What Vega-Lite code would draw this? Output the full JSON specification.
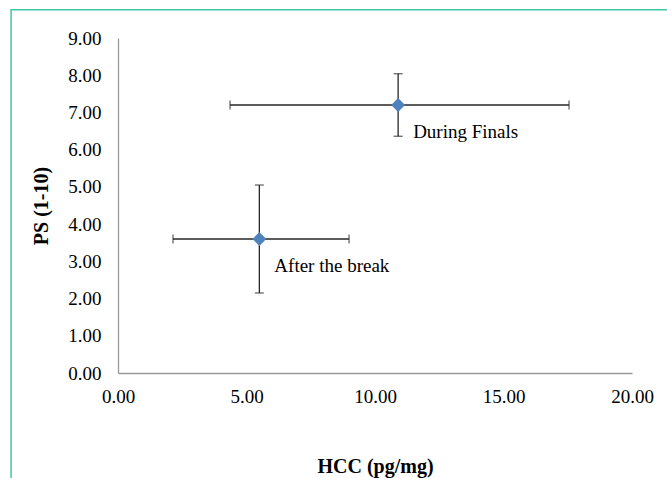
{
  "$schema": "https://vega.github.io/schema/vega-lite/v6.json",
  "width": 514,
  "height": 335,
  "autosize": {"type": "none"},
  "padding": {"left": 118, "top": 38, "right": 35, "bottom": 105},
  "background": "white",
  "config": {
    "view": {"stroke": null},
    "font": "Liberation Serif",
    "axis": {
      "grid": false,
      "ticks": false,
      "tickSize": 0,
      "domainColor": "#9a9a9a",
      "domainWidth": 1.3,
      "labelFont": "Liberation Serif",
      "labelFontSize": 19,
      "labelColor": "#000000",
      "labelOverlap": false,
      "labelFlush": false,
      "titleFont": "Liberation Serif",
      "titleFontSize": 20,
      "titleFontWeight": "bold",
      "titleColor": "#000000",
      "format": ".2f"
    }
  },
  "data": {
    "values": [
      {"label": "During Finals", "hcc": 10.9, "hcc_lo": 4.36, "hcc_hi": 17.55, "ps": 7.2, "ps_lo": 6.36, "ps_hi": 8.04},
      {"label": "After the break", "hcc": 5.5, "hcc_lo": 2.14, "hcc_hi": 8.99, "ps": 3.6, "ps_lo": 2.15, "ps_hi": 5.05}
    ]
  },
  "layer": [
    {
      "data": {"values": [{"x0": -4.16, "x1": 40, "y0": 9.76, "y1": -10}]},
      "mark": {"type": "rect", "fill": null, "stroke": "#3cc8a8", "strokeWidth": 1.5, "clip": false},
      "encoding": {
        "x": {"field": "x0", "type": "quantitative", "scale": {"domain": [0, 20], "nice": false, "zero": false}, "axis": {"values": [0, 5, 10, 15, 20], "title": "HCC (pg/mg)", "labelPadding": 14, "titlePadding": 50, "labelOverlap": false, "labelFlush": false}},
        "x2": {"field": "x1"},
        "y": {"field": "y0", "type": "quantitative", "scale": {"domain": [0, 9], "nice": false, "zero": false}, "axis": {"values": [0, 1, 2, 3, 4, 5, 6, 7, 8, 9], "title": "PS (1-10)", "labelPadding": 17, "titlePadding": 16, "labelOverlap": false, "labelFlush": false}},
        "y2": {"field": "y1"}
      }
    },
    {
      "mark": {"type": "rule", "color": "#262626", "strokeWidth": 1.3},
      "encoding": {
        "x": {"field": "hcc_lo", "type": "quantitative", "axis": {"values": [0, 5, 10, 15, 20], "title": "HCC (pg/mg)", "labelPadding": 14, "titlePadding": 50, "labelOverlap": false, "labelFlush": false}},
        "x2": {"field": "hcc_hi"},
        "y": {"field": "ps", "type": "quantitative", "axis": {"values": [0, 1, 2, 3, 4, 5, 6, 7, 8, 9], "title": "PS (1-10)", "labelPadding": 17, "titlePadding": 16, "labelOverlap": false, "labelFlush": false}}
      }
    },
    {
      "mark": {"type": "rule", "color": "#262626", "strokeWidth": 1.3},
      "encoding": {
        "x": {"field": "hcc", "type": "quantitative", "axis": {"values": [0, 5, 10, 15, 20], "title": "HCC (pg/mg)", "labelPadding": 14, "titlePadding": 50, "labelOverlap": false, "labelFlush": false}},
        "y": {"field": "ps_lo", "type": "quantitative", "axis": {"values": [0, 1, 2, 3, 4, 5, 6, 7, 8, 9], "title": "PS (1-10)", "labelPadding": 17, "titlePadding": 16, "labelOverlap": false, "labelFlush": false}},
        "y2": {"field": "ps_hi"}
      }
    },
    {
      "mark": {"type": "tick", "orient": "vertical", "color": "#262626", "size": 9, "thickness": 1.3},
      "encoding": {
        "x": {"field": "hcc_lo", "type": "quantitative", "axis": {"values": [0, 5, 10, 15, 20], "title": "HCC (pg/mg)", "labelPadding": 14, "titlePadding": 50, "labelOverlap": false, "labelFlush": false}},
        "y": {"field": "ps", "type": "quantitative", "axis": {"values": [0, 1, 2, 3, 4, 5, 6, 7, 8, 9], "title": "PS (1-10)", "labelPadding": 17, "titlePadding": 16, "labelOverlap": false, "labelFlush": false}}
      }
    },
    {
      "mark": {"type": "tick", "orient": "vertical", "color": "#262626", "size": 9, "thickness": 1.3},
      "encoding": {
        "x": {"field": "hcc_hi", "type": "quantitative", "axis": {"values": [0, 5, 10, 15, 20], "title": "HCC (pg/mg)", "labelPadding": 14, "titlePadding": 50, "labelOverlap": false, "labelFlush": false}},
        "y": {"field": "ps", "type": "quantitative", "axis": {"values": [0, 1, 2, 3, 4, 5, 6, 7, 8, 9], "title": "PS (1-10)", "labelPadding": 17, "titlePadding": 16, "labelOverlap": false, "labelFlush": false}}
      }
    },
    {
      "mark": {"type": "tick", "orient": "horizontal", "color": "#262626", "size": 9, "thickness": 1.3},
      "encoding": {
        "x": {"field": "hcc", "type": "quantitative", "axis": {"values": [0, 5, 10, 15, 20], "title": "HCC (pg/mg)", "labelPadding": 14, "titlePadding": 50, "labelOverlap": false, "labelFlush": false}},
        "y": {"field": "ps_lo", "type": "quantitative", "axis": {"values": [0, 1, 2, 3, 4, 5, 6, 7, 8, 9], "title": "PS (1-10)", "labelPadding": 17, "titlePadding": 16, "labelOverlap": false, "labelFlush": false}}
      }
    },
    {
      "mark": {"type": "tick", "orient": "horizontal", "color": "#262626", "size": 9, "thickness": 1.3},
      "encoding": {
        "x": {"field": "hcc", "type": "quantitative", "axis": {"values": [0, 5, 10, 15, 20], "title": "HCC (pg/mg)", "labelPadding": 14, "titlePadding": 50, "labelOverlap": false, "labelFlush": false}},
        "y": {"field": "ps_hi", "type": "quantitative", "axis": {"values": [0, 1, 2, 3, 4, 5, 6, 7, 8, 9], "title": "PS (1-10)", "labelPadding": 17, "titlePadding": 16, "labelOverlap": false, "labelFlush": false}}
      }
    },
    {
      "mark": {"type": "point", "shape": "diamond", "filled": true, "color": "#4f81bd", "opacity": 1, "size": 190},
      "encoding": {
        "x": {"field": "hcc", "type": "quantitative", "axis": {"values": [0, 5, 10, 15, 20], "title": "HCC (pg/mg)", "labelPadding": 14, "titlePadding": 50, "labelOverlap": false, "labelFlush": false}},
        "y": {"field": "ps", "type": "quantitative", "axis": {"values": [0, 1, 2, 3, 4, 5, 6, 7, 8, 9], "title": "PS (1-10)", "labelPadding": 17, "titlePadding": 16, "labelOverlap": false, "labelFlush": false}}
      }
    },
    {
      "mark": {"type": "text", "align": "left", "baseline": "middle", "dx": 15, "dy": 27, "fontSize": 19, "font": "Liberation Serif", "color": "#000000"},
      "encoding": {
        "x": {"field": "hcc", "type": "quantitative", "axis": {"values": [0, 5, 10, 15, 20], "title": "HCC (pg/mg)", "labelPadding": 14, "titlePadding": 50, "labelOverlap": false, "labelFlush": false}},
        "y": {"field": "ps", "type": "quantitative", "axis": {"values": [0, 1, 2, 3, 4, 5, 6, 7, 8, 9], "title": "PS (1-10)", "labelPadding": 17, "titlePadding": 16, "labelOverlap": false, "labelFlush": false}},
        "text": {"field": "label"}
      }
    }
  ]
}
